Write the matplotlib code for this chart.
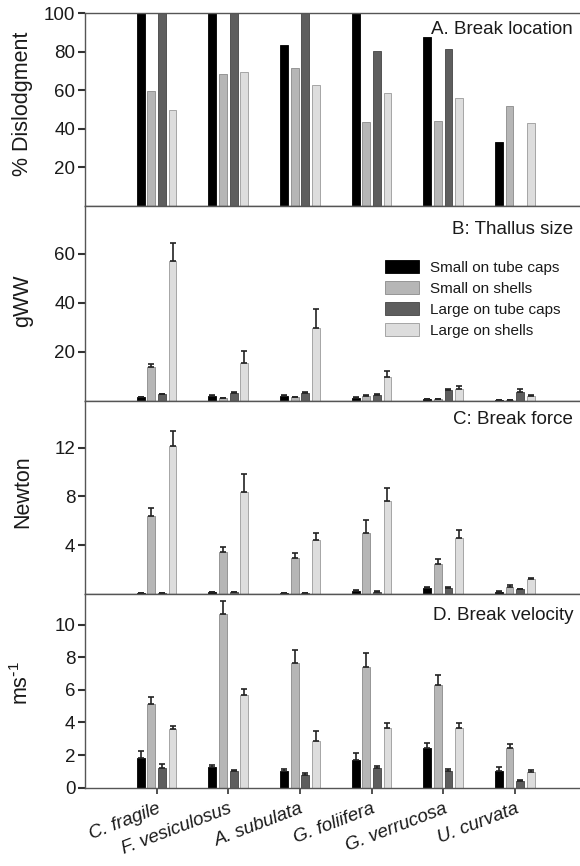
import numpy as np
import matplotlib
matplotlib.use("Agg")
import matplotlib.pyplot as plt

plt.rcParams['font.family'] = ['Liberation Sans', 'DejaVu Sans']

species = ["C. fragile", "F. vesiculosus", "A. subulata", "G. foliifera", "G. verrucosa", "U. curvata"]
series = ["Small on tube caps", "Small on shells", "Large on tube caps", "Large on shells"]
colors = ["#000000", "#b6b6b6", "#5e5e5e", "#dddddd"]
edges = ["#000000", "#8a8a8a", "#444444", "#9a9a9a"]

# A. Break location (% dislodgment), no error bars; nan = no bar
dislodg = [
    [100, 100, 83.7, 100, 87.6, 33.1],
    [59.5, 68.3, 71.7, 43.5, 43.8, 51.6],
    [100, 100, 100, 80.2, 81.6, np.nan],
    [49.9, 69.4, 62.6, 58.8, 55.8, 42.8],
]

# B: Thallus size (gWW), mean and upper end of error bar
size_mean = [
    [1.4, 2.0, 2.0, 1.1, 0.7, 0.3],
    [13.6, 0.9, 1.3, 1.9, 0.7, 0.3],
    [2.5, 3.0, 3.0, 2.2, 4.1, 3.6],
    [57.0, 15.3, 29.8, 9.6, 4.6, 2.0],
]
size_top = [
    [1.6, 2.3, 2.3, 1.3, 0.8, 0.4],
    [14.7, 1.1, 1.5, 2.2, 0.8, 0.4],
    [2.8, 3.3, 3.3, 2.5, 4.6, 4.6],
    [64.2, 20.2, 37.3, 12.0, 6.1, 2.4],
]

# C: Break force (Newton)
force_mean = [
    [0.1, 0.15, 0.05, 0.25, 0.5, 0.2],
    [6.42, 3.47, 2.92, 5.03, 2.49, 0.6],
    [0.1, 0.15, 0.05, 0.2, 0.5, 0.4],
    [12.13, 8.39, 4.43, 7.6, 4.56, 1.2],
]
force_top = [
    [0.12, 0.18, 0.07, 0.35, 0.6, 0.25],
    [7.07, 3.85, 3.39, 6.07, 2.84, 0.7],
    [0.12, 0.18, 0.07, 0.25, 0.6, 0.45],
    [13.36, 9.86, 5.03, 8.72, 5.22, 1.3],
]

# D. Break velocity (m s-1)
vel_mean = [
    [1.80, 1.25, 1.02, 1.70, 2.43, 1.0],
    [5.13, 10.68, 7.63, 7.38, 6.3, 2.42],
    [1.19, 1.04, 0.78, 1.19, 1.0, 0.41],
    [3.58, 5.67, 2.86, 3.64, 3.64, 0.98],
]
vel_top = [
    [2.25, 1.41, 1.16, 2.11, 2.76, 1.25],
    [5.58, 11.43, 8.45, 8.24, 6.9, 2.7],
    [1.47, 1.09, 0.92, 1.33, 1.15, 0.45],
    [3.79, 6.04, 3.48, 3.95, 3.98, 1.1],
]

x = np.arange(1, len(species) + 1)
offsets = [-0.222, -0.074, 0.074, 0.222]
bw = 0.11

W, H = 580, 866
fig = plt.figure(figsize=(W / 100, H / 100), dpi=100)

left = 85 / W
panels = [(13.3, 205.8), (205.8, 400.5), (400.5, 594.0), (594.0, 787.7)]
axes = []
for top_px, bot_px in panels:
    ax = fig.add_axes([left, 1 - bot_px / H, 1 - left, (bot_px - top_px) / H])
    axes.append(ax)

txt = "#1a1a1a"
spine_c = "#555555"


def style(ax, ylim, yticks):
    ax.set_xlim(0, 6.91)
    ax.set_ylim(*ylim)
    ax.set_yticks(yticks)
    ax.spines['right'].set_visible(False)
    for s in ['left', 'top', 'bottom']:
        ax.spines[s].set_color(spine_c)
        ax.spines[s].set_linewidth(1.0)
    ax.tick_params(axis='y', direction='out', length=5, width=1.5, color="#333333",
                   labelsize=13.5, labelcolor=txt, pad=2)
    ax.tick_params(axis='x', bottom=False, labelbottom=False)


def draw(ax, means, tops=None):
    for i in range(4):
        ax.bar(x + offsets[i], means[i], width=bw, color=colors[i], edgecolor=edges[i],
               linewidth=0.6, label=series[i], zorder=2)
        if tops is not None:
            m = np.array(means[i])
            up = np.array(tops[i]) - m
            ax.errorbar(x + offsets[i], m, yerr=[np.zeros_like(up), up], fmt='none',
                        ecolor="#222222", elinewidth=1.2, capsize=2.3, capthick=1.2, zorder=3)


# A
ax = axes[0]
draw(ax, dislodg)
style(ax, (0, 100), [20, 40, 60, 80, 100])
ax.set_ylabel("% Dislodgment", fontsize=15.5, color=txt)
ax.text(0.986, 0.918, "A. Break location", transform=ax.transAxes, ha='right', va='center',
        fontsize=13.5, color=txt)

# B
ax = axes[1]
draw(ax, size_mean, size_top)
style(ax, (0, 79.5), [20, 40, 60])
ax.set_ylabel("gWW", fontsize=15.5, color=txt)
ax.text(0.986, 0.876, "B: Thallus size", transform=ax.transAxes, ha='right', va='center',
        fontsize=13.5, color=txt)
ax.legend(loc='upper left', bbox_to_anchor=(0.606, 0.72), frameon=False, fontsize=11,
          handlelength=2.2, handleheight=0.9, handletextpad=0.75, labelspacing=0.42,
          borderpad=0, borderaxespad=0, labelcolor=txt)

# C
ax = axes[2]
draw(ax, force_mean, force_top)
style(ax, (0, 15.85), [4, 8, 12])
ax.set_ylabel("Newton", fontsize=15.5, color=txt)
ax.text(0.986, 0.9, "C: Break force", transform=ax.transAxes, ha='right', va='center',
        fontsize=13.5, color=txt)

# D
ax = axes[3]
draw(ax, vel_mean, vel_top)
style(ax, (0, 11.88), [0, 2, 4, 6, 8, 10])
ax.set_ylabel(r"ms$^{\mathregular{\text{-}1}}$", fontsize=15.5, color=txt)
ax.text(0.986, 0.89, "D. Break velocity", transform=ax.transAxes, ha='right', va='center',
        fontsize=13.5, color=txt)
ax.set_xticks(x)
ax.set_xticklabels(species, rotation=21, ha='right', rotation_mode='anchor',
                   fontstyle='italic', fontsize=13.5, color=txt)
ax.tick_params(axis='x', bottom=True, labelbottom=True, direction='out', length=4,
               width=1.2, color="#333333", pad=5)

for ax, yc in zip(axes, [0.53, 0.51, 0.53, 0.54]):
    ax.yaxis.set_label_coords(-0.105, yc)

fig.savefig("out.png", dpi=100)
